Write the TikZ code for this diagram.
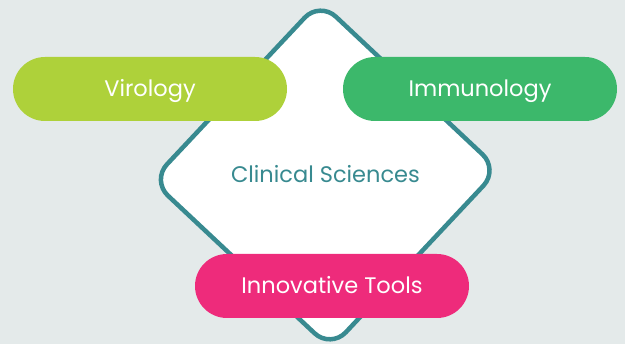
\documentclass[tikz,border=0pt]{standalone}
\usepackage{fontspec}
\setmainfont{Poppins}
\definecolor{bggray}{HTML}{E4EAEA}
\definecolor{tealline}{HTML}{388A90}
\definecolor{limegreen}{HTML}{AED13A}
\definecolor{leafgreen}{HTML}{3CB86B}
\definecolor{hotpink}{HTML}{EE2B7B}

\begin{document}
\begin{tikzpicture}[x=1pt, y=-1pt,
    pill/.style={rectangle, rounded corners=32pt, minimum width=274pt, minimum height=64pt,
        text=white, font=\fontsize{22.5}{26}\selectfont, text height=16pt, text depth=0pt}]
    \fill[bggray] (0,0) rectangle (625,344);
    \useasboundingbox (0,0) rectangle (625,344);
    % diamond corners
    \coordinate (top) at (319.8,1.6);
    \coordinate (right) at (498.6,169.5);
    \coordinate (bottom) at (330.7,348.4);
    \coordinate (left) at (151.8,180.5);
    \draw[tealline, fill=white, line width=4.5pt, rounded corners=22pt]
        (top) -- (right) -- (bottom) -- (left) -- cycle;
    \node[text=tealline, font=\fontsize{22.5}{26}\selectfont, anchor=base] (clinical) at (325.5,182.5) {Clinical Sciences};
    \node[pill, fill=limegreen] (virology) at (150,89) {Virology};
    \node[pill, fill=leafgreen] (immunology) at (480,89) {Immunology};
    \node[pill, fill=hotpink] (tools) at (332,286) {Innovative Tools};
\end{tikzpicture}
\end{document}
